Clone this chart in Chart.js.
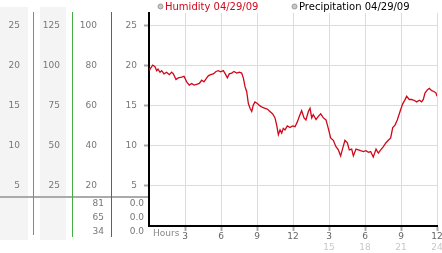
<!DOCTYPE html>
<html>
<head>
<meta charset="utf-8">
<script src="https://cdn.jsdelivr.net/npm/chart.js@4"></script>
<style>
  body { margin: 0; background: #fff; }
  #wrap { width: 442px; height: 253px; }
</style>
</head>
<body>
<div id="wrap"><canvas id="chart"></canvas></div>
<script>
// hours since midnight
const HOURS = [0, 0.08, 0.31, 0.5, 0.64, 0.75, 0.92, 1.06, 1.25, 1.47, 1.69, 1.89, 2.03, 2.25, 2.44, 2.72, 2.92,
  3.14, 3.36, 3.56, 3.75, 3.97, 4.19, 4.39, 4.58, 4.81, 4.94, 5.14, 5.36, 5.58, 5.78, 5.97, 6.19, 6.36, 6.53,
  6.69, 6.89, 7.08, 7.31, 7.53, 7.72, 7.86, 8.0, 8.14, 8.28, 8.42, 8.56, 8.69, 8.83, 9.03, 9.25, 9.47, 9.67,
  9.86, 10.08, 10.31, 10.5, 10.64, 10.78, 10.92, 11.06, 11.19, 11.33, 11.53, 11.75, 11.97, 12.17, 12.36, 12.53,
  12.72, 12.92, 13.08, 13.28, 13.42, 13.56, 13.69, 13.92, 14.11, 14.31, 14.53, 14.75, 14.94, 15.14, 15.36,
  15.58, 15.78, 15.97, 16.14, 16.33, 16.53, 16.69, 16.89, 17.03, 17.25, 17.44, 17.64, 17.86, 18.08, 18.28,
  18.47, 18.69, 18.92, 19.11, 19.31, 19.53, 19.75, 19.94, 20.14, 20.31, 20.5, 20.69, 20.92, 21.14, 21.33,
  21.47, 21.69, 21.89, 22.08, 22.31, 22.53, 22.72, 22.86, 23.0, 23.19, 23.36, 23.56, 23.75, 23.92, 24.0];
const HUMIDITY = [19.7, 19.6, 20.1, 19.9, 19.4, 19.6, 19.2, 19.4, 19.0, 19.2, 18.9, 19.2, 19.0, 18.3, 18.5, 18.6, 18.7,
  18.0, 17.6, 17.8, 17.6, 17.7, 17.8, 18.2, 18.0, 18.5, 18.75, 18.9, 19.0, 19.3, 19.4, 19.25, 19.4, 19.0, 18.5,
  19.0, 19.1, 19.3, 19.1, 19.2, 19.1, 18.5, 17.4, 16.8, 15.3, 14.7, 14.3, 15.1, 15.5, 15.3, 15.0, 14.8, 14.7,
  14.6, 14.3, 14.0, 13.5, 12.6, 11.4, 12.0, 11.6, 12.2, 12.0, 12.5, 12.3, 12.5, 12.4, 13.0, 13.7,
  14.4, 13.5, 13.25, 14.3, 14.7, 13.5, 13.9, 13.3, 13.7, 14.0, 13.5, 13.25, 12.2, 11.0, 10.7,
  9.9, 9.5, 8.75, 9.7, 10.7, 10.4, 9.5, 9.6, 8.75, 9.6, 9.5, 9.4, 9.3, 9.4, 9.2,
  9.3, 8.6, 9.6, 9.1, 9.5, 9.9, 10.4, 10.7, 11.0, 12.3, 12.6, 13.25, 14.3, 15.25, 15.75,
  16.2, 15.8, 15.8, 15.7, 15.5, 15.7, 15.5, 15.8, 16.6, 17.0, 17.2, 16.9, 16.8, 16.6, 16.2];
const PRECIPITATION = [];

const HOUR_TICKS = [3, 6, 9, 12, 15, 18, 21, 24];
const HOUR_LABELS = ['3', '6', '9', '12', '3', '6', '9', '12'];
const HOUR_LABELS_24 = ['', '', '', '', '15', '18', '21', '24'];

const COL1_TICKS = [5, 10, 15, 20, 25];
const COL2_TICKS = [25, 50, 75, 100, 125];
const COL3_TICKS = [20, 40, 60, 80, 100];
const COL4_TICKS = [5, 10, 15, 20, 25];

// small table under the left axes
const TABLE_HUMIDITY = ['81', '65', '34'];
const TABLE_PRECIP = ['0.0', '0.0', '0.0'];

const Y_MAX = 26.6;
const FONT = 'DejaVu Sans';

function leftAxis(ticks, max, width, weight, pad) {
    return {
        type: 'linear',
        position: 'left',
        min: 0,
        max: max,
        weight: weight,
        afterBuildTicks: s => { s.ticks = ticks.map(v => ({value: v})); },
        afterFit: s => { s.width = width; s.paddingTop = 0; s.paddingBottom = 0; },
        grid: {display: false, drawTicks: false},
        border: {display: false},
        ticks: {color: '#777', font: {family: FONT, size: 9}, padding: pad, crossAlign: 'near'}
    };
}

//Draws the grey columns, the coloured axis lines, the little table, the "Hours" word and the legend
const panelPlugin = {
    id: 'panel',
    beforeDraw(chart) {
        const ctx = chart.ctx;
        ctx.save();
        ctx.fillStyle = '#f4f4f4';
        ctx.fillRect(0, 7, 28, 233);
        ctx.fillRect(40, 7, 26, 233);
        ctx.fillStyle = '#aaa';
        ctx.fillRect(0, 196, chart.chartArea.left, 2);
        ctx.restore();
    },
    afterDraw(chart) {
        const ctx = chart.ctx;
        const s = chart.scales;
        ctx.save();

        [['a', '#3a9fd6', 235], ['b', '#44ad44', 237], ['c', '#cc3333', 237]].forEach(([id, col, end]) => {
            ctx.fillStyle = col;
            ctx.fillRect(Math.round(s[id].right), 12, 1, end - 12);
        });

        ctx.font = '9px ' + FONT;
        ctx.fillStyle = '#777';
        ctx.textAlign = 'right';
        ctx.textBaseline = 'middle';
        for (let i = 0; i < TABLE_HUMIDITY.length; i++) {
            let y = 204 + i * 14;
            ctx.fillText(TABLE_HUMIDITY[i], s.c.right - 7, y);
            ctx.fillText(TABLE_PRECIP[i], s.y.right - 5, y);
        }

        ctx.textAlign = 'left';
        ctx.fillStyle = '#888';
        ctx.fillText('Hours', chart.chartArea.left + 4, 234);

        // legend
        ctx.font = '10px ' + FONT;
        let lx = [158, 292];
        chart.data.datasets.forEach((ds, i) => {
            ctx.beginPath();
            ctx.arc(lx[i] + 2.5, 6.5, 2.5, 0, Math.PI * 2);
            ctx.fillStyle = '#c8c8c8';
            ctx.fill();
            ctx.strokeStyle = '#999';
            ctx.lineWidth = 1;
            ctx.stroke();
            ctx.fillStyle = ds.legendColor;
            ctx.fillText(ds.label, lx[i] + 7, 7);
        });
        ctx.restore();
    }
};

new Chart(document.getElementById('chart'), {
    type: 'line',
    data: {
        datasets: [{
            label: 'Humidity 04/29/09',
            data: HOURS.map((h, i) => ({x: h, y: HUMIDITY[i]})),
            borderColor: '#d0081a',
            legendColor: '#d0081a',
            borderWidth: 1.3,
            pointRadius: 0,
            yAxisID: 'y',
            xAxisID: 'x'
        }, {
            label: 'Precipitation 04/29/09',
            data: PRECIPITATION,
            borderColor: '#000',
            legendColor: '#000',
            pointRadius: 0,
            yAxisID: 'y',
            xAxisID: 'x'
        }]
    },
    options: {
        responsive: true,
        maintainAspectRatio: false,
        animation: false,
        layout: {padding: {top: 13, right: 5, left: 0, bottom: 0}},
        plugins: {legend: {display: false}, tooltip: {enabled: false}},
        scales: {
            a: leftAxis(COL1_TICKS, Y_MAX, 33, 4, 13),
            b: leftAxis(COL2_TICKS, Y_MAX * 5, 39, 3, 12),
            c: leftAxis(COL3_TICKS, Y_MAX * 4, 39, 2, 14),
            y: {
                type: 'linear',
                position: 'left',
                min: 0,
                max: Y_MAX,
                weight: 1,
                afterBuildTicks: s => { s.ticks = COL4_TICKS.map(v => ({value: v})); },
                afterFit: s => { s.width = 38; s.paddingTop = 0; s.paddingBottom = 0; },
                grid: {color: '#dcdcdc', lineWidth: 1, tickColor: '#aaa', tickLength: 5, tickWidth: 2},
                border: {color: '#000', width: 2},
                ticks: {color: '#777', font: {family: FONT, size: 9}, padding: 7, crossAlign: 'near'}
            },
            x: {
                type: 'linear',
                position: 'bottom',
                min: 0,
                max: 24,
                weight: 0,
                afterBuildTicks: s => { s.ticks = HOUR_TICKS.map(v => ({value: v})); },
                afterFit: s => { s.height = 16; s.paddingLeft = 0; s.paddingRight = 0; },
                grid: {color: '#dcdcdc', lineWidth: 1, tickColor: '#aaa', tickLength: 5, tickWidth: 2},
                border: {color: '#000', width: 2},
                ticks: {
                    color: '#666', font: {family: FONT, size: 9}, padding: 0, maxRotation: 0,
                    callback: v => HOUR_LABELS[HOUR_TICKS.indexOf(v)]
                }
            },
            x2: {
                type: 'linear',
                position: 'bottom',
                min: 0,
                max: 24,
                weight: 1,
                afterBuildTicks: s => { s.ticks = HOUR_TICKS.map(v => ({value: v})); },
                afterFit: s => { s.height = 11; s.paddingLeft = 0; s.paddingRight = 0; },
                grid: {display: false, drawTicks: false},
                border: {display: false},
                ticks: {
                    color: '#c8c8c8', font: {family: FONT, size: 9}, padding: 0, maxRotation: 0,
                    callback: v => HOUR_LABELS_24[HOUR_TICKS.indexOf(v)]
                }
            }
        }
    },
    plugins: [panelPlugin]
});
</script>
</body>
</html>
